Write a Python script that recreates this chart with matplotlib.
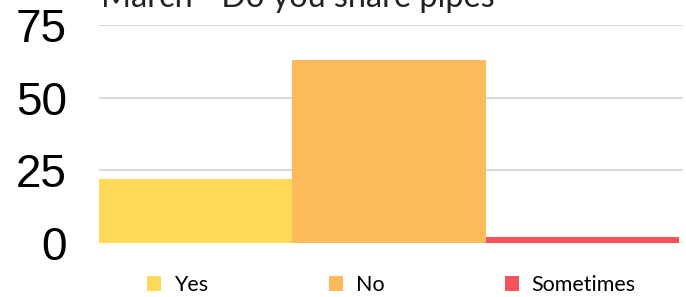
import matplotlib.pyplot as plt

categories = ['Yes', 'No', 'Sometimes']
values = [22, 63, 2]
colors = ['#FCD958', '#FCBA5A', '#F5525B']
yticks = [0, 25, 50, 75]
title = 'March - Do you share pipes'

fig = plt.figure(figsize=(6.86, 2.97), dpi=100)
ax = fig.add_axes([0.1443, 0.1818, 0.851, 0.734])

bars = ax.bar(range(len(categories)), values, width=1.0, color=colors, zorder=3)

ax.set_xlim(-0.5, 2.52)
ax.set_ylim(0, 75)
ax.set_yticks(yticks)
ax.set_yticklabels([str(t) for t in yticks], family='Liberation Sans', fontsize=33)
ax.tick_params(axis='y', length=0, pad=23)
ax.set_xticks([])
ax.grid(axis='y', color='#d9d9d9', linewidth=1.5, zorder=0)
for s in ax.spines.values():
    s.set_visible(False)

fig.text(101 / 686, (297 - 7) / 297, title, family='Lato', fontsize=23.3,
         color='#222222', va='baseline', ha='left')

fig.legend(bars, categories, loc='center left', bbox_to_anchor=(147 / 686, 12 / 297),
           ncol=3, frameon=False, borderpad=0, borderaxespad=0,
           handlelength=0.65, handleheight=0.65, handletextpad=0.6,
           columnspacing=5.6, prop={'family': 'Lato', 'size': 15.5})

fig.savefig('out.png', dpi=100)
